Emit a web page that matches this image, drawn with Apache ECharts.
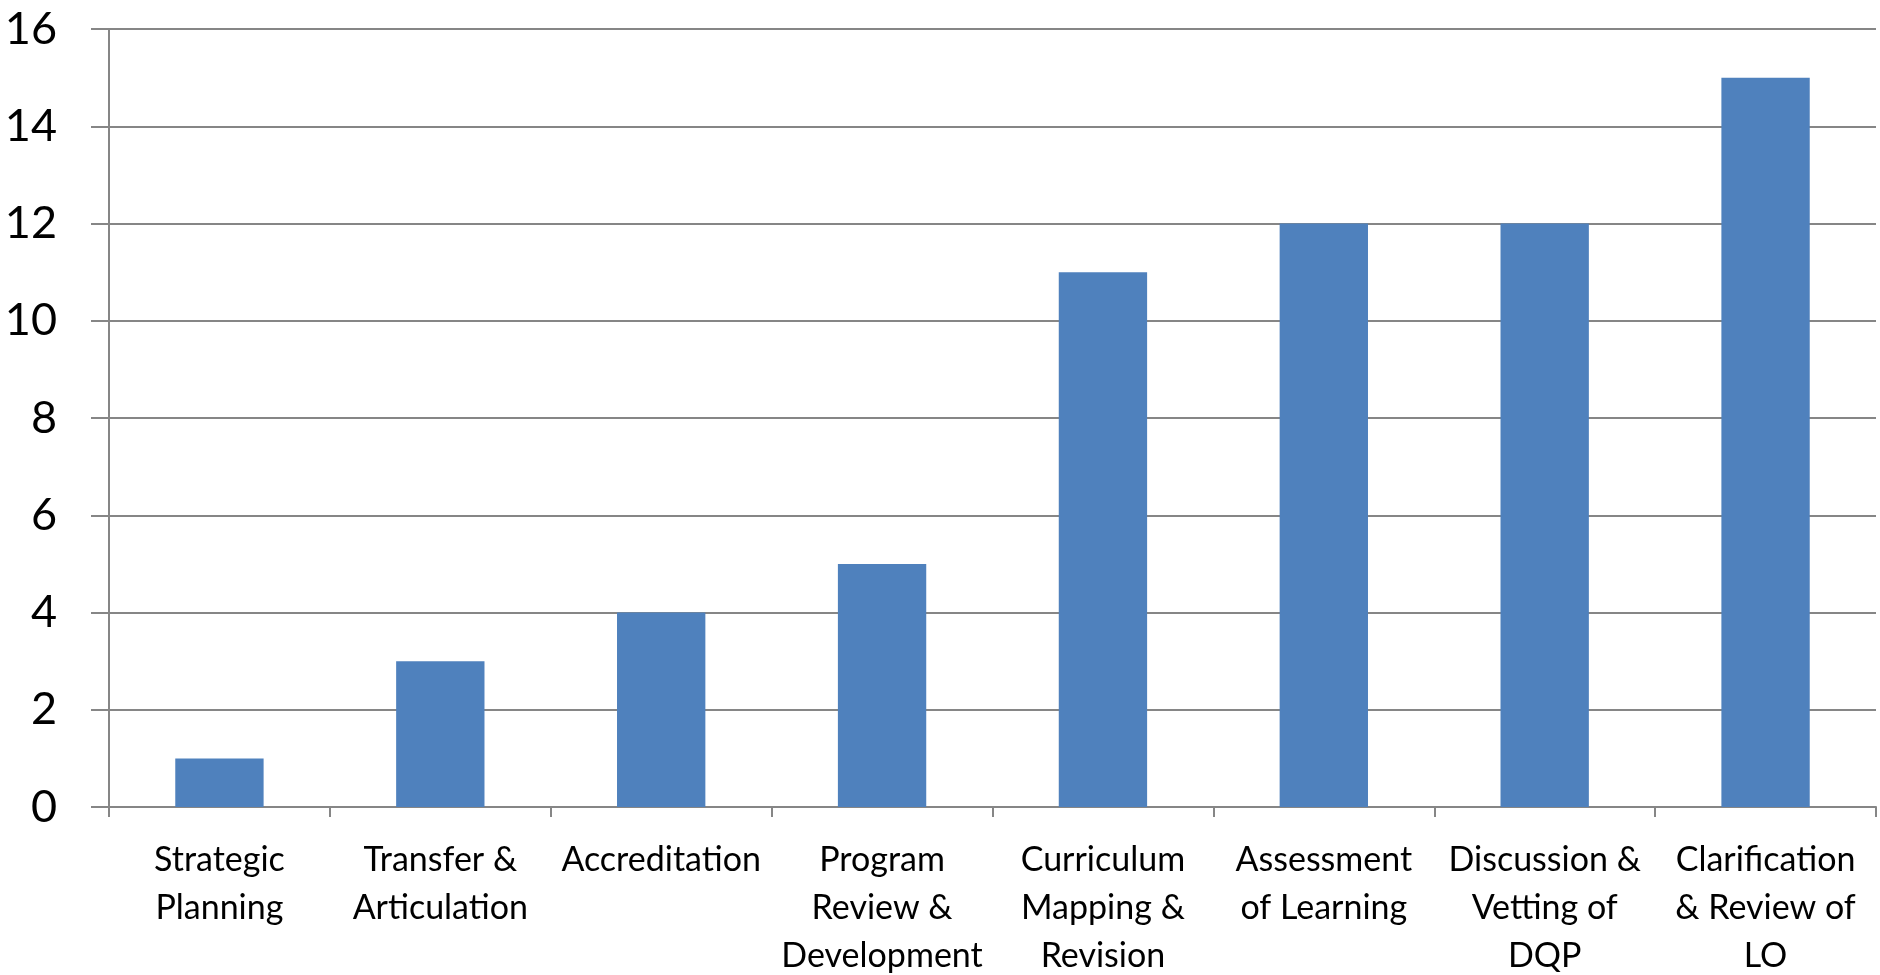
<!DOCTYPE html>
<html>
<head>
<meta charset="utf-8">
<script src="https://cdn.jsdelivr.net/npm/echarts@6/dist/echarts.min.js"></script>
<style>
  html, body { margin: 0; padding: 0; background: #fff; }
  #chart { width: 1880px; height: 975px; }
</style>
</head>
<body>
<div id="chart"></div>
<script>
// categories (with line breaks as in the picture)
const categories = [
  'Strategic\nPlanning',
  'Transfer &\nArticulation',
  'Accreditation',
  'Program\nReview &\nDevelopment',
  'Curriculum\nMapping &\nRevision',
  'Assessment\nof Learning',
  'Discussion &\nVetting of\nDQP',
  'Clarification\n& Review of\nLO'
]
const values = [1, 3, 4, 5, 11, 12, 12, 15]

const chart = echarts.init(document.getElementById('chart'))

const options = {
  animation: false,
  grid: {left: 109, right: 4, top: 29, bottom: 168, outerBoundsMode: 'none'},
  xAxis: {
    type: 'category',
    data: categories,
    axisLine: {lineStyle: {color: '#868686', width: 2}},
    axisTick: {show: true, length: 10, lineStyle: {color: '#868686', width: 2}},
    axisLabel: {
      interval: 0,
      margin: 29,
      color: '#000',
      fontFamily: 'Lato',
      fontSize: 34,
      lineHeight: 48,
      align: 'center'
    }
  },
  yAxis: {
    type: 'value',
    min: 0,
    max: 16,
    interval: 2,
    axisLine: {show: true, lineStyle: {color: '#868686', width: 2}},
    axisTick: {show: true, length: 18, lineStyle: {color: '#868686', width: 2}},
    splitLine: {lineStyle: {color: '#868686', width: 2}},
    axisLabel: {
      margin: 52,
      color: '#000',
      fontFamily: 'Lato',
      fontSize: 45
    }
  },
  series: [{
    type: 'bar',
    data: values,
    barWidth: '40%',
    itemStyle: {color: '#4F81BD'}
  }]
}

chart.setOption(options)
</script>
</body>
</html>
